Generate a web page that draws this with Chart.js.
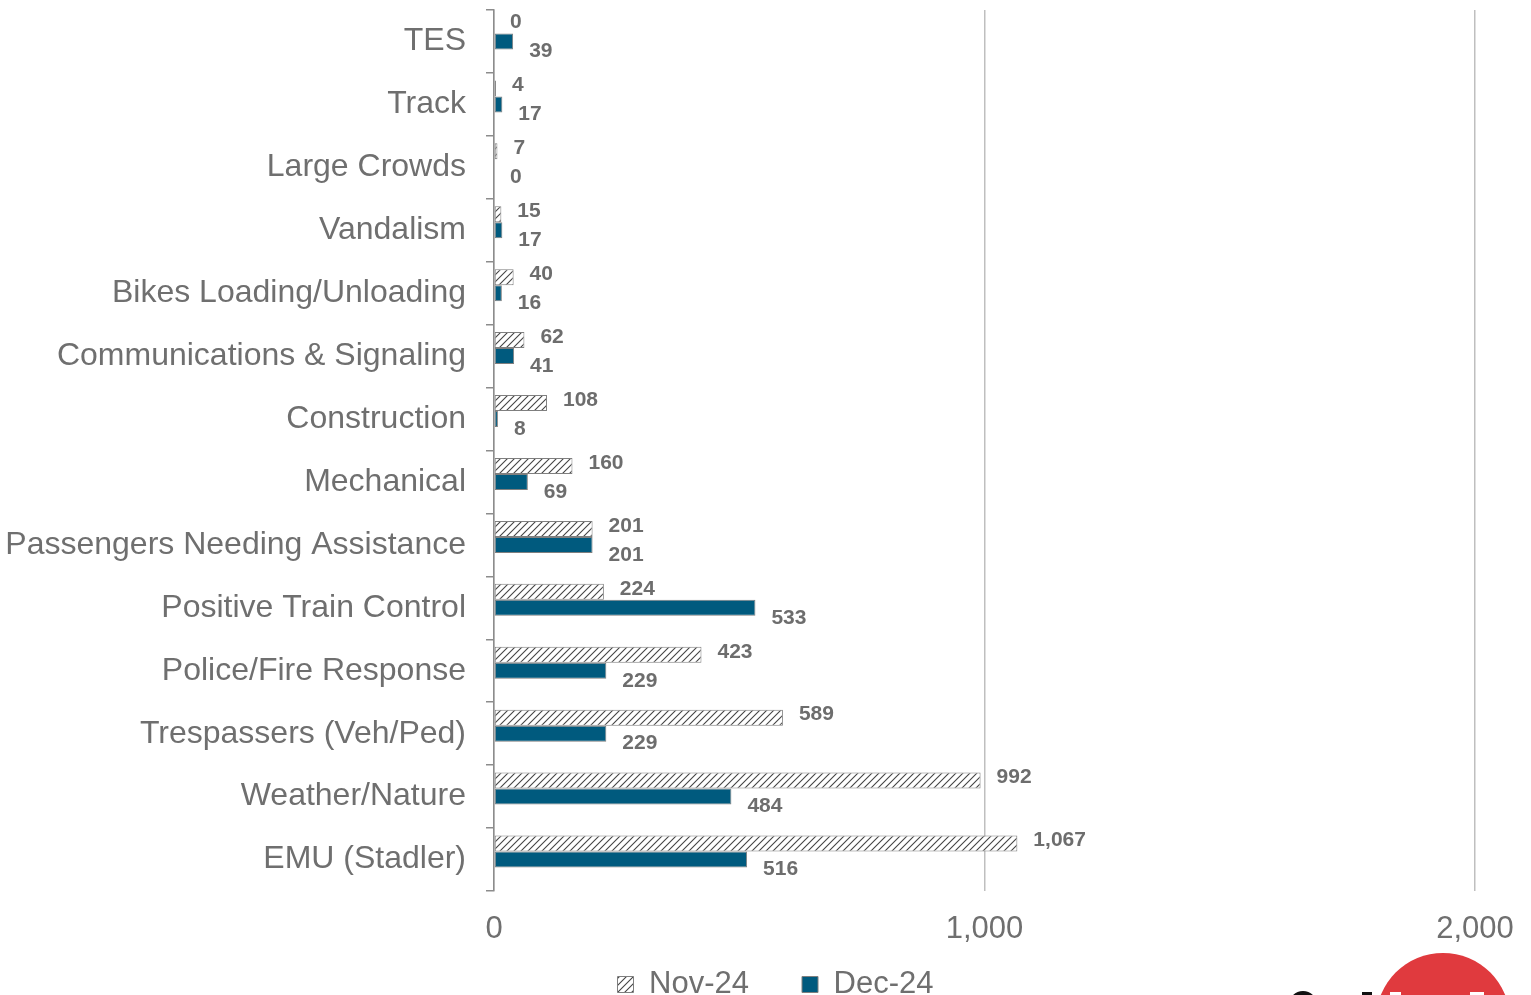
<!DOCTYPE html>
<html>
<head>
<meta charset="utf-8">
<script src="https://cdn.jsdelivr.net/npm/chart.js@4"></script>
<style>
html,body{margin:0;padding:0;background:#fff;overflow:hidden;width:1531px;height:995px;}
#wrap{position:relative;width:1531px;height:1010px;}
#logo{position:absolute;left:1376px;top:953px;width:134px;height:134px;border-radius:50%;background:#E03A3E;}
.bk{position:absolute;background:#111;}
.wh{position:absolute;background:#fff;}
#ring{position:absolute;left:1289px;top:991px;width:20px;height:20px;border:4px solid #111;border-radius:50%;}
</style>
</head>
<body>
<div id="wrap"><canvas id="c" width="1531" height="1010"></canvas><div id="logo"></div>
<div id="ring"></div>
<div class="bk" style="left:1362px;top:992px;width:10px;height:10px;"></div>
<div class="wh" style="left:1390px;top:992px;width:11px;height:10px;"></div>
<div class="wh" style="left:1470px;top:992px;width:14px;height:10px;"></div>
</div>
<script>
const categories = ["TES","Track","Large Crowds","Vandalism","Bikes Loading/Unloading","Communications & Signaling","Construction","Mechanical","Passengers Needing Assistance","Positive Train Control","Police/Fire Response","Trespassers (Veh/Ped)","Weather/Nature","EMU (Stadler)"];
const nov24 = [0,4,7,15,40,62,108,160,201,224,423,589,992,1067];
const dec24 = [39,17,0,17,16,41,8,69,201,533,229,229,484,516];
const seriesNames = ["Nov-24","Dec-24"];
const xTicks = [0,1000,2000];

const FONT = '"Liberation Sans", Arial, sans-serif';

function hatch(){
  const s = 7;
  const cv = document.createElement('canvas');
  cv.width = s; cv.height = s;
  const g = cv.getContext('2d');
  g.fillStyle = '#ffffff'; g.fillRect(0,0,s,s);
  g.strokeStyle = '#444444'; g.lineWidth = 1.1;
  g.beginPath();
  g.moveTo(-1, s+1); g.lineTo(s+1, -1);
  g.moveTo(-1, 1); g.lineTo(1, -1);
  g.moveTo(s-1, s+1); g.lineTo(s+1, s-1);
  g.stroke();
  return g.createPattern(cv,'repeat');
}
const hatchPattern = hatch();

const labelPlugin = {
  id:'vlabels',
  afterDatasetsDraw(chart){
    const ctx = chart.ctx;
    ctx.save();
    ctx.font = 'bold 21px ' + FONT;
    ctx.fillStyle = '#6d6d6d';
    ctx.textAlign = 'left';
    ctx.textBaseline = 'middle';
    [0,1].forEach(di=>{
      const meta = chart.getDatasetMeta(di);
      meta.data.forEach((el,i)=>{
        const v = chart.data.datasets[di].data[i];
        const txt = v.toLocaleString('en-US');
        const dy = di===0 ? -3 : 10;
        ctx.fillText(txt, el.x + 16, el.y + dy);
      });
    });
    ctx.restore();
  }
};

new Chart(document.getElementById('c'), {
  type:'bar',
  data:{
    labels: categories,
    datasets:[
      {label:seriesNames[0], data:nov24, backgroundColor:hatchPattern, borderColor:'#7f7f7f', borderWidth:1, borderSkipped:false},
      {label:seriesNames[1], data:dec24, backgroundColor:'#005A7E', borderColor:'#7f7f7f', borderWidth:1, borderSkipped:false},
      {label:'', data:categories.map(()=>null), backgroundColor:'rgba(0,0,0,0)'}
    ]
  },
  options:{
    indexAxis:'y',
    responsive:false,
    animation:false,
    categoryPercentage:0.763,
    barPercentage:1,
    layout:{padding:{top:10,right:56,left:0,bottom:0}},
    scales:{
      y:{
        afterFit(s){ s.width = 494; s.paddingTop = 0; s.paddingBottom = 0; },
        grid:{drawOnChartArea:false, drawTicks:true, tickLength:8, color:'#8c8c8c', lineWidth:1.5},
        border:{color:'#8c8c8c', width:1.5},
        ticks:{color:'#6f6f6f', padding:20, font:{family:FONT, size:32}}
      },
      x:{
        min:0, max:2000,
        afterBuildTicks(s){ s.ticks = xTicks.map(v=>({value:v})); },
        afterFit(s){ s.height = 68; s.paddingLeft = 0; s.paddingRight = 0; },
        grid:{color:'#bfbfbf', lineWidth:1.5, drawTicks:false},
        border:{display:false},
        ticks:{color:'#6f6f6f', padding:20, font:{family:FONT, size:31},
          callback:(v)=>Number(v).toLocaleString('en-US')}
      }
    },
    plugins:{
      legend:{
        position:'bottom',
        labels:{
          color:'#6f6f6f',
          boxWidth:16, boxHeight:16, padding:10,
          font:{family:FONT, size:31},
          generateLabels(chart){
            const items = Chart.defaults.plugins.legend.labels.generateLabels(chart).filter(it=>it.datasetIndex<2);
            items.forEach(it=>{ if(it.datasetIndex===0) it.text = it.text + '     '; });
            const spacer = {text:'    ', fillStyle:'rgba(0,0,0,0)', strokeStyle:'rgba(0,0,0,0)', lineWidth:0, hidden:false, datasetIndex:2, fontColor:'rgba(0,0,0,0)'};
            return [spacer].concat(items);
          }
        }
      },
      tooltip:{enabled:false}
    }
  },
  plugins:[labelPlugin]
});
</script>
</body>
</html>
